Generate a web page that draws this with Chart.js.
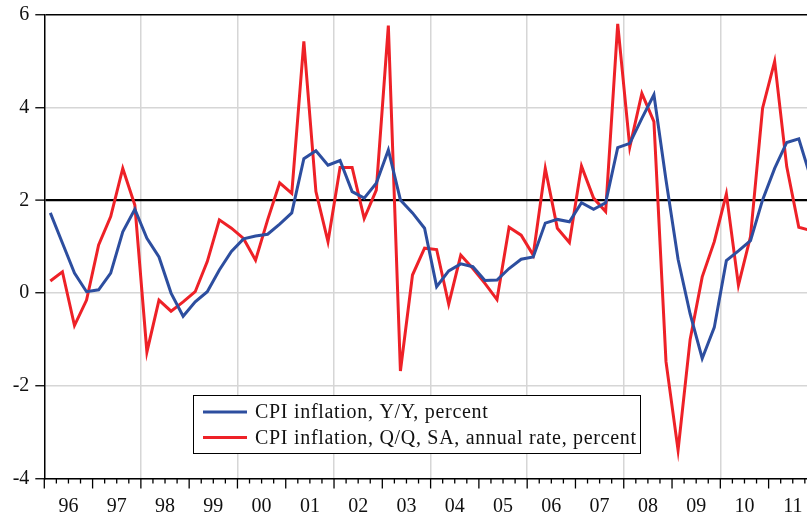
<!DOCTYPE html>
<html lang="en">
  <head>
    <meta charset="UTF-8" />
    <title>CPI inflation</title>
    <style>
      body {
        margin: 0;
        background: #ffffff;
        overflow: hidden;
      }
    </style>
  </head>
  <body>
    <canvas id="myChart" width="807" height="518"></canvas>
  </body>
  <script src="https://cdn.jsdelivr.net/npm/chart.js"></script>
  <script>
    // year labels, quarterly data starts 1996Q1
    const years = ["96", "97", "98", "99", "00", "01", "02", "03", "04", "05", "06", "07", "08", "09", "10", "11"];
    const firstYear = 1996;

    // CPI inflation, Y/Y, percent
    const yoy = [
      1.73, 1.08, 0.43, 0.03,
      0.07, 0.43, 1.32, 1.81,
      1.18, 0.78, 0.0, -0.5,
      -0.19, 0.03, 0.5, 0.9,
      1.17, 1.23, 1.27, 1.49,
      1.73, 2.9, 3.07, 2.76,
      2.86, 2.19, 2.05, 2.37,
      3.09, 2.01, 1.73, 1.4,
      0.14, 0.48, 0.63, 0.57,
      0.27, 0.28, 0.53, 0.73,
      0.78, 1.51, 1.59, 1.54,
      1.95, 1.81, 1.95, 3.14,
      3.23, 3.77, 4.28, 2.44,
      0.73, -0.45, -1.41, -0.74,
      0.7, 0.91, 1.13, 2.01,
      2.69, 3.25, 3.33, 2.48,
    ];
    // CPI inflation, Q/Q, SA, annual rate, percent
    const qoq = [
      0.26, 0.46, -0.7, -0.15,
      1.04, 1.65, 2.69, 1.9,
      -1.27, -0.15, -0.39, -0.19,
      0.03, 0.68, 1.58, 1.4,
      1.18, 0.71, 1.58, 2.38,
      2.15, 5.43, 2.19, 1.11,
      2.71, 2.71, 1.61, 2.22,
      5.77, -1.68, 0.39, 0.97,
      0.94, -0.24, 0.82, 0.53,
      0.21, -0.14, 1.42, 1.25,
      0.82, 2.69, 1.4, 1.09,
      2.74, 2.05, 1.76, 5.81,
      3.15, 4.31, 3.7, -1.48,
      -3.39, -1.0, 0.35, 1.11,
      2.14, 0.17, 1.22, 3.99,
      5.0, 2.73, 1.42, 1.35,
    ];
    const yTicks = [-4, -2, 0, 2, 4, 6];
    const seriesNames = [
      "CPI inflation, Y/Y, percent",
      "CPI inflation, Q/Q, SA, annual rate, percent",
    ];
    const blue = "#2d4e9f";
    const red = "#ee2127";
    const font = "'Liberation Serif', 'Times New Roman', serif";

    // each point sits in the middle of its quarter
    const toPoints = (list) =>
      list.map((v, i) => ({ x: firstYear + (i + 0.5) / 4, y: v }));

    // quarter tick marks under the x axis, longer ones at year starts
    const quarterTicks = {
      id: "quarterTicks",
      afterDraw(chart) {
        const ctx = chart.ctx;
        const xs = chart.scales.x;
        const bottom = chart.chartArea.bottom;
        ctx.save();
        ctx.strokeStyle = "#000";
        ctx.lineWidth = 1.3;
        for (let q = 0; q < years.length * 4; q++) {
          const px = xs.getPixelForValue(firstYear + q / 4);
          if (px > chart.width) break;
          const len = q % 4 === 0 ? 10 : 5;
          ctx.beginPath();
          ctx.moveTo(px, bottom);
          ctx.lineTo(px, bottom + len);
          ctx.stroke();
        }
        ctx.restore();
      },
    };

    // boxed legend inside the plot
    const boxLegend = {
      id: "boxLegend",
      afterDraw(chart) {
        const ctx = chart.ctx;
        ctx.save();
        ctx.fillStyle = "#fff";
        ctx.fillRect(193.5, 395.5, 447, 58);
        ctx.strokeStyle = "#000";
        ctx.lineWidth = 1;
        ctx.strokeRect(193.5, 395.5, 447, 58);
        const colors = [blue, red];
        ctx.font = "20px " + font;
        ctx.letterSpacing = "0.7px";
        ctx.textBaseline = "middle";
        seriesNames.forEach((name, i) => {
          const y = 412 + i * 25.5;
          ctx.strokeStyle = colors[i];
          ctx.lineWidth = 3;
          ctx.beginPath();
          ctx.moveTo(203, y);
          ctx.lineTo(247, y);
          ctx.stroke();
          ctx.fillStyle = "#111";
          ctx.fillText(name, 255, y + 1);
        });
        ctx.restore();
      },
    };

    const data = {
      datasets: [
        {
          label: seriesNames[0],
          data: toPoints(yoy),
          borderColor: blue,
          borderWidth: 3,
        },
        {
          label: seriesNames[1],
          data: toPoints(qoq),
          borderColor: red,
          borderWidth: 3,
        },
      ],
    };

    const config = {
      type: "line",
      data: data,
      plugins: [quarterTicks, boxLegend],
      options: {
        responsive: false,
        animation: false,
        layout: { padding: { top: 15, right: 0, left: 0, bottom: 0 } },
        elements: {
          point: { radius: 0 },
          line: { tension: 0 },
        },
        plugins: {
          legend: { display: false },
          tooltip: { enabled: false },
        },
        scales: {
          x: {
            type: "linear",
            min: firstYear,
            max: 2011.795,
            afterBuildTicks: (scale) => {
              const t = [];
              for (let q = 0; q <= years.length * 4; q++) {
                const v = firstYear + q / 4;
                if (v <= scale.max) t.push({ value: v });
              }
              scale.ticks = t;
            },
            afterFit: (scale) => {
              scale.height = 39.5;
              scale.paddingLeft = 0;
              scale.paddingRight = 0;
            },
            ticks: {
              autoSkip: false,
              maxRotation: 0,
              padding: 16,
              color: "#111",
              font: { family: font, size: 20 },
              callback: (value) => {
                const k = Math.round((value - firstYear) * 4);
                return k % 4 === 2 ? years[(k - 2) / 4] : "";
              },
            },
            grid: {
              drawTicks: false,
              lineWidth: 1.5,
              color: (c) => {
                const v = c.tick ? c.tick.value : 0;
                const yr = v - firstYear;
                return Number.isInteger(yr) && yr > 0 && yr % 2 === 0
                  ? "#d6d6d6"
                  : "rgba(0,0,0,0)";
              },
            },
            border: { color: "#000", width: 1.5 },
          },
          y: {
            min: -4,
            max: 6,
            afterBuildTicks: (scale) => {
              scale.ticks = yTicks.map((v) => ({ value: v }));
            },
            afterFit: (scale) => {
              scale.width = 44.3;
              scale.paddingTop = 0;
              scale.paddingBottom = 0;
            },
            ticks: {
              padding: 6,
              color: "#111",
              font: { family: font, size: 20 },
            },
            grid: {
              tickLength: 9,
              tickColor: "#000",
              tickWidth: 1.3,
              color: (c) => {
                const v = c.tick ? c.tick.value : 0;
                if (v === 2 || v === 6) return "#000";
                return "#d6d6d6";
              },
              lineWidth: (c) => {
                const v = c.tick ? c.tick.value : 0;
                if (v === 2) return 2.2;
                return 1.5;
              },
            },
            border: { color: "#000", width: 1.5 },
          },
        },
      },
    };

    const myChart = new Chart(document.getElementById("myChart"), config);
  </script>
</html>
